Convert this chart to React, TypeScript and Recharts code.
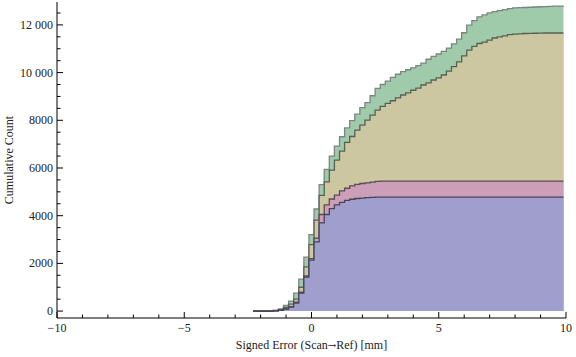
import { ComposedChart, Area, Line, XAxis, YAxis } from 'recharts'

// bin edges of the signed error (mm); each value holds until the next edge
const errorEdges = [
  -2.3, -2.1, -1.9, -1.7, -1.5, -1.3, -1.1, -0.9, -0.7, -0.5, -0.3, -0.1,
  0.1, 0.3, 0.5, 0.7, 0.9, 1.1, 1.3, 1.5, 1.7, 1.9, 2.1, 2.3, 2.5, 2.7, 2.9,
  3.1, 3.3, 3.5, 3.7, 3.9, 4.1, 4.3, 4.5, 4.7, 4.9, 5.1, 5.3, 5.5, 5.7, 5.9,
  6.1, 6.3, 6.5, 6.7, 6.9, 7.1, 7.3, 7.5, 7.7, 7.9, 8.1, 8.3, 8.5, 8.7, 8.9,
  9.1, 9.3, 9.5, 9.7, 9.9,
]

// top of each stacked layer (cumulative count)
const blueTop = [
  0, 0, 1, 2, 10, 30, 80, 170, 340, 750, 1430, 2140,
  2900, 3700, 4050, 4300, 4450, 4560, 4640, 4690, 4720, 4740, 4760, 4770, 4780, 4780, 4780,
  4780, 4780, 4780, 4780, 4780, 4780, 4780, 4780, 4780, 4780, 4780, 4780, 4780, 4780, 4780,
  4780, 4780, 4780, 4780, 4780, 4780, 4780, 4780, 4780, 4780, 4780, 4780, 4780, 4780, 4780,
  4780, 4780, 4780, 4780, 4780,
]
const pinkTop = [
  0, 0, 1, 2, 12, 35, 95, 190, 370, 790, 1480, 2200,
  3060, 4050, 4450, 4700, 4860, 5040, 5150, 5250, 5310, 5350, 5380, 5410, 5440, 5450, 5450,
  5450, 5450, 5450, 5450, 5450, 5450, 5450, 5450, 5450, 5450, 5450, 5450, 5450, 5450, 5450,
  5450, 5450, 5450, 5450, 5450, 5450, 5450, 5450, 5450, 5450, 5450, 5450, 5450, 5450, 5450,
  5450, 5450, 5450, 5450, 5450,
]
const tanTop = [
  0, 1, 2, 4, 20, 55, 150, 290, 500, 1000, 1850, 2790,
  3815, 4850, 5420, 5910, 6330, 6710, 7070, 7320, 7590, 7800, 8010, 8220, 8430, 8580, 8710,
  8820, 8940, 9060, 9150, 9260, 9350, 9480, 9570, 9690, 9780, 9900, 10060, 10250, 10450, 10700,
  10940, 11100, 11220, 11280, 11360, 11450, 11500, 11540, 11590, 11610, 11620, 11640, 11645, 11650, 11655,
  11660, 11660, 11660, 11660, 11660,
]
const greenTop = [
  2, 3, 5, 8, 35, 90, 240, 420, 750, 1340, 2260, 3210,
  4280, 5300, 5940, 6500, 6920, 7310, 7680, 7990, 8255, 8530, 8740, 9030, 9340, 9500, 9640,
  9800, 9930, 10040, 10120, 10200, 10290, 10400, 10560, 10680, 10780, 10890, 11030, 11200, 11400, 11670,
  11990, 12180, 12340, 12420, 12500, 12560, 12600, 12640, 12680, 12710, 12720, 12730, 12740, 12750, 12760,
  12770, 12780, 12785, 12790, 12800,
]

const xTicks = [-10, -9, -8, -7, -6, -5, -4, -3, -2, -1, 0, 1, 2, 3, 4, 5, 6, 7, 8, 9, 10]
const xLabels = [-10, -5, 0, 5, 10]
const yTicks = [
  0, 500, 1000, 1500, 2000, 2500, 3000, 3500, 4000, 4500, 5000, 5500, 6000,
  6500, 7000, 7500, 8000, 8500, 9000, 9500, 10000, 10500, 11000, 11500, 12000, 12500,
]
const yLabels = [0, 2000, 4000, 6000, 8000, 10000, 12000]

const data = errorEdges.map((x, i) => ({
  x,
  blue: blueTop[i],
  pink: pinkTop[i],
  tan: tanTop[i],
  green: greenTop[i],
}))

const FONT = "'Liberation Serif', 'Times New Roman', serif"

function fmtX(v: number) {
  return v < 0 ? `\u2212${-v}` : String(v)
}

function fmtY(v: number) {
  if (v < 10000) return String(v)
  return `${Math.floor(v / 1000)} ${String(v % 1000).padStart(3, '0')}`
}

// frame ticks point inward, like the original
function BottomTick({ x, y, payload }: any) {
  const v = payload.value
  const major = xLabels.includes(v)
  return (
    <g>
      <line x1={x} y1={y} x2={x} y2={y - (major ? 6 : 3.5)} stroke="#000" />
      {major && (
        <text x={x} y={y + 14} textAnchor="middle" fontFamily={FONT} fontSize={12} fill="#222">
          {fmtX(v)}
        </text>
      )}
    </g>
  )
}

function TopTick({ x, y, payload }: any) {
  const major = xLabels.includes(payload.value)
  return <line x1={x} y1={y} x2={x} y2={y + (major ? 6 : 3.5)} stroke="#000" />
}

function LeftTick({ x, y, payload }: any) {
  const v = payload.value
  const major = yLabels.includes(v)
  return (
    <g>
      <line x1={x} y1={y} x2={x + (major ? 6 : 3.5)} y2={y} stroke="#000" />
      {major && (
        <text x={x - 4} y={y + 4} textAnchor="end" fontFamily={FONT} fontSize={12} fill="#222">
          {fmtY(v)}
        </text>
      )}
    </g>
  )
}

function RightTick({ x, y, payload }: any) {
  const major = yLabels.includes(payload.value)
  return <line x1={x} y1={y} x2={x - (major ? 6 : 3.5)} y2={y} stroke="#000" />
}

function YTitle({ viewBox }: any) {
  const cx = 9
  const cy = viewBox.y + viewBox.height / 2
  return (
    <text
      x={cx}
      y={cy}
      transform={`rotate(-90, ${cx}, ${cy})`}
      textAnchor="middle"
      dominantBaseline="central"
      fontFamily={FONT}
      fontSize={12}
      fill="#222"
    >
      Cumulative Count
    </text>
  )
}

function XTitle({ viewBox }: any) {
  const cx = viewBox.x + viewBox.width / 2
  return (
    <text x={cx} y={349} textAnchor="middle" fontFamily={FONT} fontSize={12} fill="#222">
      Signed Error (Scan<tspan fontFamily="'DejaVu Serif', serif" fontSize={10}>{'\u2192'}</tspan>Ref) [mm]
    </text>
  )
}

export default function App() {
  return (
    <div style={{ width: 576, height: 357 }}>
      <style>{'body{margin:0}'}</style>
      <ComposedChart
        width={576}
        height={357}
        data={data}
        margin={{ top: 2, right: 10, bottom: 0, left: 0 }}
      >
        <XAxis
          xAxisId="bottom"
          dataKey="x"
          type="number"
          domain={[-10, 10]}
          ticks={xTicks}
          interval={0}
          height={39}
          tickSize={0}
          tickMargin={0}
          tick={<BottomTick />}
          axisLine={{ stroke: '#000' }}
          label={<XTitle />}
        />
        <XAxis
          xAxisId="top"
          orientation="top"
          dataKey="x"
          type="number"
          domain={[-10, 10]}
          ticks={xTicks}
          interval={0}
          height={0}
          tickSize={0}
          tickMargin={0}
          tick={<TopTick />}
          axisLine={{ stroke: '#000' }}
        />
        <YAxis
          yAxisId="left"
          type="number"
          domain={[-290, 12960]}
          ticks={yTicks}
          interval={0}
          width={57}
          tickSize={0}
          tickMargin={0}
          tick={<LeftTick />}
          axisLine={{ stroke: '#000' }}
          label={<YTitle />}
        />
        <YAxis
          yAxisId="right"
          orientation="right"
          type="number"
          domain={[-290, 12960]}
          ticks={yTicks}
          interval={0}
          width={0}
          tickSize={0}
          tickMargin={0}
          tick={<RightTick />}
          axisLine={{ stroke: '#000' }}
        />
        <Area
          xAxisId="bottom"
          yAxisId="left"
          type="stepAfter"
          dataKey="green"
          baseValue={0}
          fill="#9fcbaa"
          fillOpacity={1}
          stroke="#7d857f"
          strokeWidth={1.3}
          isAnimationActive={false}
        />
        <Area
          xAxisId="bottom"
          yAxisId="left"
          type="stepAfter"
          dataKey="tan"
          baseValue={0}
          fill="#ccc7a0"
          fillOpacity={1}
          stroke="#566156"
          strokeWidth={1.3}
          isAnimationActive={false}
        />
        <Area
          xAxisId="bottom"
          yAxisId="left"
          type="stepAfter"
          dataKey="pink"
          baseValue={0}
          fill="#cd9eb8"
          fillOpacity={1}
          stroke="#5a4a56"
          strokeWidth={1.3}
          isAnimationActive={false}
        />
        <Area
          xAxisId="bottom"
          yAxisId="left"
          type="stepAfter"
          dataKey="blue"
          baseValue={0}
          fill="#a09ecc"
          fillOpacity={1}
          stroke="#45455a"
          strokeWidth={1.3}
          isAnimationActive={false}
        />
        <Line
          xAxisId="top"
          yAxisId="right"
          dataKey="green"
          stroke="none"
          dot={false}
          activeDot={false}
          legendType="none"
          isAnimationActive={false}
        />
      </ComposedChart>
    </div>
  )
}
